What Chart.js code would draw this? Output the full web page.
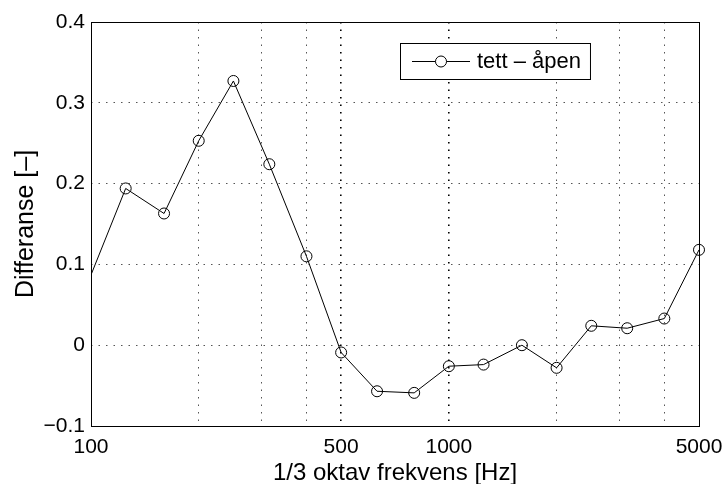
<!DOCTYPE html>
<html>
<head>
<meta charset="utf-8">
<script src="https://cdn.jsdelivr.net/npm/chart.js@4.4.1/dist/chart.umd.min.js"></script>
<style>
  html, body { margin: 0; padding: 0; background: #fff; }
  #wrap { width: 725px; height: 484px; position: relative; }
</style>
</head>
<body>
<div id="wrap"><canvas id="myChart"></canvas></div>
<script>
// data (1/3 octave bands)
const frequencies = [80, 125, 160, 200, 250, 315, 400, 500, 630, 800, 1000, 1250, 1600, 2000, 2500, 3150, 4000, 5000];
const differanse = [-0.02, 0.194, 0.163, 0.253, 0.327, 0.224, 0.110, -0.009, -0.057, -0.059, -0.026, -0.024, 0.000, -0.028, 0.024, 0.021, 0.033, 0.118];
const xTicks = [100, 200, 300, 400, 500, 1000, 2000, 3000, 4000, 5000];
const xLabelled = [100, 500, 1000, 5000];
const seriesLabel = "tett \u2013 åpen";

const FONT = "'Liberation Sans', Arial, Helvetica, sans-serif";

// rammen rundt plottet
const boxPlugin = {
  id: "box",
  afterDatasetsDraw(chart) {
    const a = chart.chartArea;
    const ctx = chart.ctx;
    ctx.save();
    ctx.strokeStyle = "#000";
    ctx.lineWidth = 1;
    ctx.strokeRect(Math.round(a.left) + 0.5, Math.round(a.top) + 0.5,
      Math.round(a.right - a.left), Math.round(a.bottom - a.top));
    ctx.restore();
  }
};

// legenden inni plottet (som i matlab)
const insideLegend = {
  id: "insideLegend",
  afterDraw(chart) {
    const a = chart.chartArea;
    const ctx = chart.ctx;
    const ds = chart.data.datasets[0];
    ctx.save();
    ctx.font = "22px " + FONT;
    const tw = ctx.measureText(ds.label).width;
    const x0 = a.left + 309, y0 = a.top + 21;
    const w = 12 + 58 + 7 + tw + 9, h = 36;
    ctx.fillStyle = "#fff";
    ctx.fillRect(x0, y0, w, h);
    ctx.strokeStyle = "#000";
    ctx.lineWidth = 1;
    ctx.strokeRect(x0 + 0.5, y0 + 0.5, w, h);
    const cy = y0 + h / 2 + 0.5;
    ctx.beginPath();
    ctx.moveTo(x0 + 12, cy);
    ctx.lineTo(x0 + 70, cy);
    ctx.stroke();
    ctx.beginPath();
    ctx.arc(x0 + 41, cy, 5.5, 0, Math.PI * 2);
    ctx.fill();
    ctx.stroke();
    ctx.fillStyle = "#000";
    ctx.textBaseline = "middle";
    ctx.fillText(ds.label, x0 + 77, cy);
    ctx.restore();
  }
};

const isMain = (c) => c.tick && (c.tick.value === 500 || c.tick.value === 1000);

const ctx = document.getElementById("myChart").getContext("2d");
new Chart(ctx, {
  type: "line",
  data: {
    datasets: [{
      label: seriesLabel,
      data: frequencies.map((f, i) => ({ x: f, y: differanse[i] })),
      borderColor: "#000",
      borderWidth: 1,
      backgroundColor: "rgba(0,0,0,0)",
      pointRadius: 5.5,
      pointBorderWidth: 1,
      pointBorderColor: "#000",
      pointBackgroundColor: "rgba(0,0,0,0)",
      tension: 0,
      clip: { left: 0, top: 8, right: 8, bottom: 8 }
    }]
  },
  options: {
    responsive: true,
    maintainAspectRatio: false,
    animation: false,
    events: [],
    layout: { padding: { top: 22, right: 26, left: 0, bottom: 0 } },
    plugins: { legend: { display: false }, tooltip: { enabled: false } },
    scales: {
      x: {
        type: "logarithmic",
        min: 100,
        max: 5000,
        afterBuildTicks: (scale) => { scale.ticks = xTicks.map(v => ({ value: v })); },
        afterFit: (scale) => {
          scale.height = 58;
          scale.paddingLeft = 0;
          scale.paddingRight = 0;
        },
        border: { display: false, dash: [1.5, 6] },
        grid: {
          drawTicks: false,
          color: (c) => isMain(c) ? "#000" : "#555",
          lineWidth: (c) => isMain(c) ? 1.6 : 1
        },
        ticks: {
          autoSkip: false,
          maxRotation: 0,
          padding: 9,
          color: "#000",
          font: { family: FONT, size: 21 },
          callback: (v) => xLabelled.includes(v) ? String(v) : ""
        },
        title: {
          display: true,
          text: "1/3 oktav frekvens [Hz]",
          color: "#000",
          font: { family: FONT, size: 24 },
          padding: { top: 0, bottom: -4 }
        }
      },
      y: {
        min: -0.1,
        max: 0.4,
        afterFit: (scale) => { scale.width = 91; },
        border: { display: false, dash: [1.5, 6] },
        grid: { drawTicks: false, color: "#555", lineWidth: 1 },
        ticks: {
          stepSize: 0.1,
          padding: 6,
          color: "#000",
          font: { family: FONT, size: 21 },
          callback: (v) => {
            const r = Math.round(v * 10) / 10;
            return r < 0 ? "\u2212" + Math.abs(r) : String(r);
          }
        },
        title: {
          display: true,
          text: "Differanse [\u2013]",
          color: "#000",
          font: { family: FONT, size: 25 },
          padding: { top: 11, bottom: 0 }
        }
      }
    }
  },
  plugins: [boxPlugin, insideLegend]
});
</script>
</body>
</html>
